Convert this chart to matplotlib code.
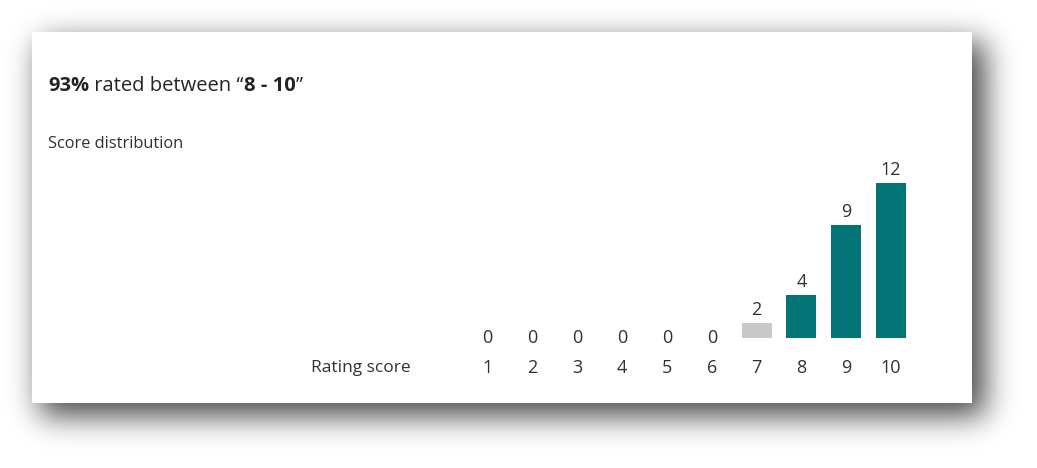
import math
import numpy as np
import matplotlib
matplotlib.use("Agg")
import matplotlib.pyplot as plt
from matplotlib.patches import Rectangle
from matplotlib.transforms import offset_copy

# ---- data ----
scores = [1, 2, 3, 4, 5, 6, 7, 8, 9, 10]
counts = [0, 0, 0, 0, 0, 0, 2, 4, 9, 12]
title_pct = "93%"
title_range = "8 - 10"
subtitle = "Score distribution"
axis_label = "Rating score"

# ---- style ----
W, H = 1037, 468
TEAL = "#037475"
GRAY = "#c8c8c8"
TXT = "#323130"
FONT = ["Open Sans", "DejaVu Sans"]
plt.rcParams["font.family"] = FONT

fig = plt.figure(figsize=(W / 100, H / 100), dpi=100)
fig.patch.set_facecolor("white")

# background + shadow + card (pixel coordinates)
bg = fig.add_axes([0, 0, 1, 1])
bg.set_xlim(0, W)
bg.set_ylim(H, 0)
bg.axis("off")
erf = np.vectorize(math.erf)
s = 15.0
X = np.arange(W) + 0.5
Y = np.arange(H) + 0.5
x0, x1, y0, y1 = 40, 985, 42, 416
sx = 0.5 * (erf((X - x0) / (math.sqrt(2) * s)) - erf((X - x1) / (math.sqrt(2) * s)))
sy = 0.5 * (erf((Y - y0) / (math.sqrt(2) * s)) - erf((Y - y1) / (math.sqrt(2) * s)))
alpha = 0.72 * sy[:, None] * sx[None, :]
img = np.zeros((H, W, 4))
img[..., 3] = alpha
bg.imshow(img, extent=[0, W, H, 0], interpolation="bilinear", zorder=1)
bg.add_patch(Rectangle((32, 32), 940, 371, facecolor="white", edgecolor="none", zorder=2))

def fx(px):
    return px / W

def fy(py):
    return 1 - py / H

# ---- chart axes ----
step = 44.85
c1 = 487.5
left_px = c1 - 0.5 * step
ax_w_px = 10 * step
zero_px = 350.5
unit_px = 14.0
base_px = 338.0
ymin = (zero_px - base_px) / unit_px
ymax = 13.0
top_px = zero_px - ymax * unit_px
ax = fig.add_axes([fx(left_px), fy(base_px), ax_w_px / W, (base_px - top_px) / H])
ax.set_facecolor("none")
ax.set_xlim(0.5, 10.5)
ax.set_ylim(ymin, ymax)
colors = [TEAL if sc >= 8 else GRAY for sc in scores]
ax.bar(scores, counts, width=30 / step, color=colors, edgecolor="none")
for sc, v in zip(scores, counts):
    tr = offset_copy(ax.transData, fig=fig, x=0, y=12.5 * 72 / 100, units="points")
    ax.text(sc, v, str(v), transform=tr, ha="center", va="center",
            fontsize=13, color=TXT, clip_on=False)
ax.set_xticks(scores)
ax.set_xticklabels([str(sc) for sc in scores], fontsize=13, color=TXT)
ax.tick_params(axis="x", length=0, pad=15)
ax.set_yticks([])
for sp in ax.spines.values():
    sp.set_visible(False)

fig.text(fx(411), fy(368), axis_label, ha="right", va="center", fontsize=12.5, color=TXT)
fig.text(fx(48), fy(144), subtitle, ha="left", va="center", fontsize=11.8, color=TXT)

# ---- title with mixed weights ----
fig.canvas.draw()
renderer = fig.canvas.get_renderer()
pieces = [(title_pct, "bold"), (" rated between \u201c", "normal"),
          (title_range, "bold"), ("\u201d", "normal")]
xpos = fx(48)
for txt, wt in pieces:
    t = fig.text(xpos, fy(86), txt, ha="left", va="center", fontsize=14.5,
                 fontweight=wt, color="#252423")
    bb = t.get_window_extent(renderer=renderer)
    xpos += bb.width / W

fig.savefig("out.png", dpi=100, facecolor="white")
